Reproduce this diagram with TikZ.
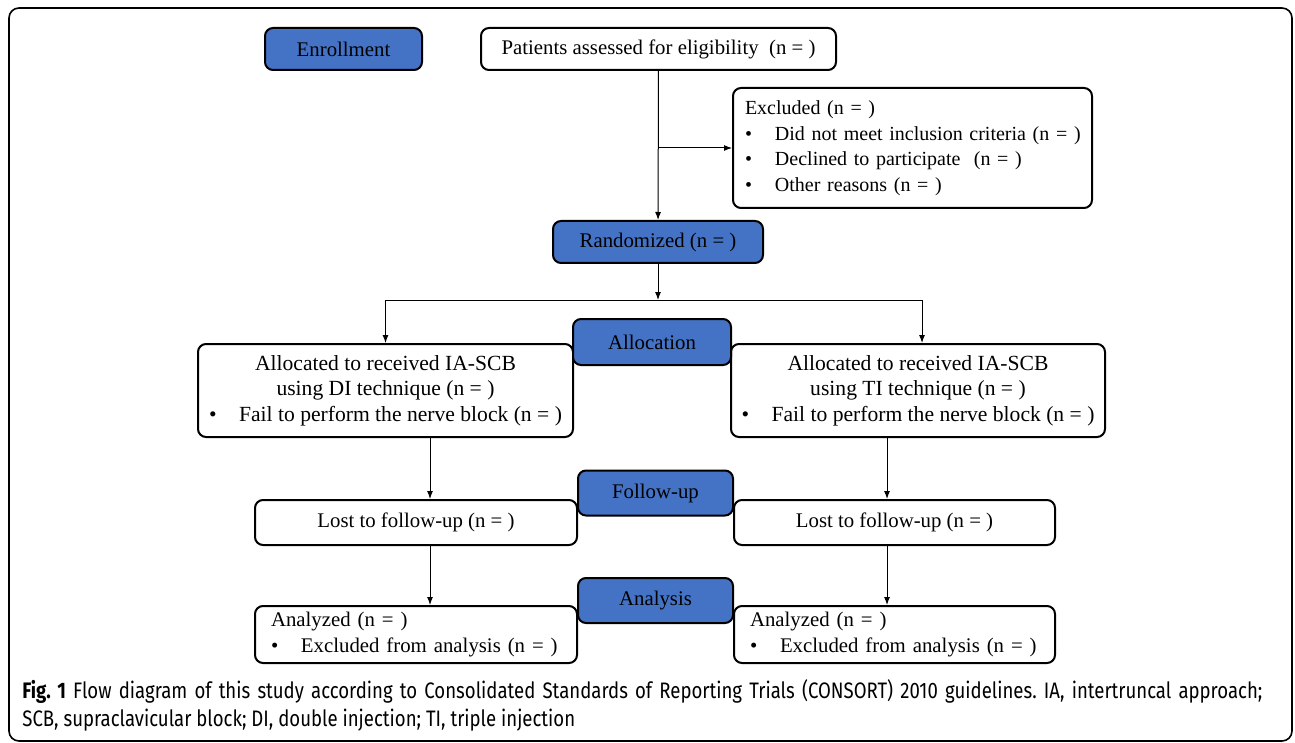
\documentclass[tikz,border=0pt]{standalone}
\usepackage{fontspec}
\setmainfont{Liberation Serif}
\newfontfamily\capfont[FakeStretch=0.83]{Fira Sans}
\usepackage{tikz}
\usetikzlibrary{arrows.meta,positioning,calc}
\definecolor{boxblue}{RGB}{68,114,196}

\tikzset{
    stage/.style={draw, line width=1pt, rounded corners=4pt, inner sep=0pt},
    bluebox/.style={stage, fill=boxblue},
    arr/.style={-{Latex[length=4pt,width=3pt]}, line width=0.5pt},
}
\newcommand{\bul}{\makebox[15pt][l]{\textbullet}}

\begin{document}
\begin{tikzpicture}[x=0.5pt, y=-0.5pt, font=\fontsize{10.4}{12.5}\selectfont]
    \useasboundingbox (0,0) rectangle (1295,743);
    \draw[line width=0.8pt, rounded corners=5pt] (9,8) rectangle (1292,741);

    % Enrollment
    \node[bluebox, minimum width=78.5pt, minimum height=21pt] (enroll) at (343.5,49) {Enrollment};
    \node[stage, minimum width=177.5pt, minimum height=21pt] (pat) at (658.5,49) {Patients assessed for eligibility\ \ (n = )};
    \node[stage, minimum width=179.5pt, minimum height=60pt, text width=167.5pt, align=left, inner xsep=6pt,
          font=\fontsize{10}{12.8}\selectfont] (exc) at (912.5,148)
        {Excluded (n = )\\ \bul \mbox{Did not meet inclusion criteria (n = )}\\ \bul Declined to participate\ \ (n = )\\ \bul Other reasons (n = )};
    \node[bluebox, minimum width=105pt, minimum height=21pt] (rand) at (658,242) {Randomized (n = )};

    \coordinate (br) at (pat.south |- exc.west);
    \coordinate (split) at (658,300);
    \draw[arr] (pat) -- (rand);
    \draw[arr] (br) -- (exc.west);
    \draw[arr] (rand) -- (split);

    % Allocation
    \node[stage, minimum width=187.5pt, minimum height=46.5pt, align=center, font=\fontsize{10.8}{12.8}\selectfont] (di) at (385.5,390.5)
        {Allocated to received IA-SCB\\ using DI technique (n = )\\ \bul Fail to perform the nerve block (n = )};
    \node[stage, minimum width=187pt, minimum height=46.5pt, align=center, font=\fontsize{10.8}{12.8}\selectfont] (ti) at (918,390.5)
        {Allocated to received IA-SCB\\ using TI technique (n = )\\ \bul Fail to perform the nerve block (n = )};
    \node[bluebox, minimum width=79pt, minimum height=23pt] (alloc) at (652,342) {Allocation};

    \draw[arr] (split) -| (di.north);
    \draw[arr] (split) -| ([xshift=2pt]ti.north);

    % Follow-up
    \coordinate (lcol) at (430,0);
    \coordinate (rcol) at (887,0);
    \node[stage, minimum width=161pt, minimum height=22.5pt] (lost1) at (416,522.5) {Lost to follow-up (n = )};
    \node[stage, minimum width=160.5pt, minimum height=22.5pt] (lost2) at (894.5,522.5) {Lost to follow-up (n = )};
    \node[bluebox, minimum width=77.5pt, minimum height=22.5pt] (fol) at (655.5,493) {Follow-up};

    \draw[arr] (di.south -| lcol) -- (lost1.north -| lcol);
    \draw[arr] (ti.south -| rcol) -- (lost2.north -| rcol);

    % Analysis
    \node[stage, minimum width=161pt, minimum height=28.5pt, text width=145pt, align=left, inner xsep=8pt,
          font=\fontsize{10.4}{13}\selectfont] (an1) at (416,634.5)
        {Analyzed (n = )\\ \bul Excluded from analysis (n = )};
    \node[stage, minimum width=160.5pt, minimum height=28.5pt, text width=144.5pt, align=left, inner xsep=8pt,
          font=\fontsize{10.4}{13}\selectfont] (an2) at (894.5,634.5)
        {Analyzed (n = )\\ \bul Excluded from analysis (n = )};
    \node[bluebox, minimum width=77.5pt, minimum height=22.5pt] (ana) at (655.5,600.5) {Analysis};

    \draw[arr] (lost1.south -| lcol) -- (an1.north -| lcol);
    \draw[arr] (lost2.south -| rcol) -- (an2.north -| rcol);

    % Caption
    \node[anchor=north west, inner sep=0pt, text width=620pt, align=justify,
          font=\capfont\fontsize{11.2}{14}\selectfont\frenchspacing] (cap) at (22,679)
        {\textbf{Fig. 1} Flow diagram of this study according to Consolidated Standards of Reporting Trials (CONSORT) 2010 guidelines. IA, intertruncal approach;\linebreak SCB, supraclavicular block; DI, double injection; TI, triple injection};
\end{tikzpicture}
\end{document}
